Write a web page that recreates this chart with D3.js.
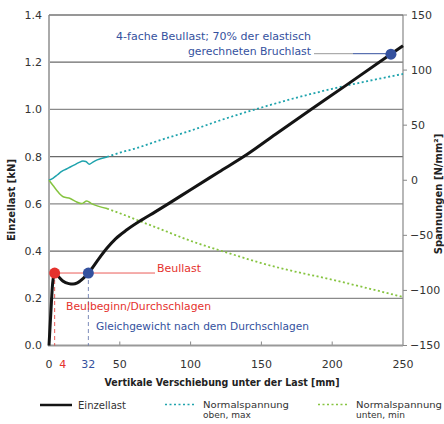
<!DOCTYPE html>
<html><head><meta charset="utf-8">
<script src="https://cdn.jsdelivr.net/npm/d3@7"></script>
<style>
html,body{margin:0;padding:0;background:#fff;}
svg{display:block;font-family:"DejaVu Sans",sans-serif;}
</style></head>
<body><svg id="c" width="444" height="424"></svg>
<script>
// ---- data ----
const lastX = [0, 1.4, 2.6, 4, 7, 10, 14, 17, 20, 24, 27.8, 31, 35, 41, 47, 55, 65, 75, 85, 100, 120, 140, 160, 185, 210, 240, 250];
const lastY = [0, 0.15, 0.265, 0.307, 0.29, 0.272, 0.262, 0.26, 0.265, 0.283, 0.307, 0.332, 0.366, 0.413, 0.452, 0.49, 0.53, 0.566, 0.603, 0.66, 0.735, 0.81, 0.895, 1.0, 1.103, 1.228, 1.27];
const obenX = [0, 3, 6, 9, 12, 15, 18, 21, 24, 26, 28.5, 31, 34, 41, 50, 60, 80, 100, 120, 150, 175, 200, 225, 250];
const obenY = [0, 2, 5, 8, 10, 12, 14, 16, 17.5, 17, 14.5, 16.5, 18.5, 21.2, 25, 28.5, 37, 45, 54, 66, 75, 83, 90, 96.5];
const untenX = [0, 3, 5.4, 8, 10, 15, 19.6, 23, 26.7, 30, 41, 57, 64, 80, 100, 128, 150, 170, 197, 225, 250];
const untenY = [0, -5, -9, -13, -15, -16.6, -19.7, -21.2, -18.8, -21.2, -25.7, -33.4, -37, -45, -55, -66.6, -75.2, -81.8, -89.4, -98, -106];
const leftTicks = [0, 0.2, 0.4, 0.6, 0.8, 1.0, 1.2, 1.4];
const rightTicks = [-150, -100, -50, 0, 50, 100, 150];
const xTicks = [0, 50, 100, 150, 200, 250];
const markX = [4, 27.8];          // Beulbeginn, Gleichgewicht
const markLabel = ["4", "32"];
const markY = 0.307;
const bruchX = 241.5, bruchY = 1.234;
const seriesNames = ["Einzellast", "Normalspannung|oben, max", "Normalspannung|unten, min"];

// ---- layout ----
const svg = d3.select("#c");
const L = 49, R = 403, T = 15, B = 345.5;
const x = d3.scaleLinear().domain([0, 250]).range([L, R]);
const y = d3.scaleLinear().domain([0, 1.4]).range([B, T]);
const y2 = d3.scaleLinear().domain([-150, 150]).range([B, T]);
const COL = {black:"#141414", teal:"#1fa3ad", green:"#86c440", red:"#e5322d", blue:"#34519e", txt:"#333"};

// grid
svg.append("g").selectAll("line").data(leftTicks.filter(d=>d>0)).join("line")
  .attr("x1", L).attr("x2", R).attr("y1", d=>y(d)).attr("y2", d=>y(d))
  .attr("stroke", (d,i)=> i%2===0 ? "#8a8a8a" : "#6a6a6a").attr("stroke-width", 1.2);

// left axis labels
svg.append("g").selectAll("text").data(leftTicks).join("text")
  .attr("x", 42).attr("y", d=>y(d)).attr("dy","0.36em").attr("text-anchor","end")
  .attr("font-size", 11).attr("fill", COL.txt).text(d=>d.toFixed(1));

// right axis ticks + labels
const ra = svg.append("g");
ra.selectAll("line").data(rightTicks).join("line")
  .attr("x1", R).attr("x2", R+4).attr("y1", d=>y2(d)).attr("y2", d=>y2(d))
  .attr("stroke","#888").attr("stroke-width",1);
ra.selectAll("text").data(rightTicks).join("text")
  .attr("x", d=> d<0 ? 410 : 411).attr("y", d=>y2(d)).attr("dy","0.36em")
  .attr("font-size", 11).attr("fill", COL.txt).text(d=> d<0 ? "\u2212"+Math.abs(d) : d);

// x ticks
svg.append("g").selectAll("line").data(xTicks.filter(d=>d>0 && d<250)).join("line")
  .attr("x1", d=>x(d)).attr("x2", d=>x(d)).attr("y1", B).attr("y2", B-4)
  .attr("stroke","#888").attr("stroke-width",1);
svg.append("g").selectAll("text").data(xTicks).join("text")
  .attr("x", d=>x(d)).attr("y", 364).attr("dy","0.36em").attr("text-anchor","middle")
  .attr("font-size", 11).attr("fill", COL.txt).text(d=>d);
svg.append("text").attr("x", x(markX[0])+8).attr("y",364).attr("dy","0.36em").attr("text-anchor","middle")
  .attr("font-size",11).attr("fill",COL.red).text(markLabel[0]);
svg.append("text").attr("x", x(markX[1])).attr("y",364).attr("dy","0.36em").attr("text-anchor","middle")
  .attr("font-size",11).attr("fill",COL.blue).text(markLabel[1]);

// axes lines
svg.append("line").attr("x1",L).attr("x2",L).attr("y1",T).attr("y2",B).attr("stroke","#aaa").attr("stroke-width",2);
svg.append("line").attr("x1",R).attr("x2",R).attr("y1",T).attr("y2",B).attr("stroke","#888").attr("stroke-width",1.2);
svg.append("line").attr("x1",L-1).attr("x2",R).attr("y1",B).attr("y2",B).attr("stroke","#999").attr("stroke-width",2);
svg.append("line").attr("x1",L).attr("x2",R).attr("y1",T).attr("y2",T).attr("stroke","#6a6a6a").attr("stroke-width",1.2);

// axis titles
svg.append("text").attr("transform","translate(15,200) rotate(-90)").attr("text-anchor","middle")
  .attr("font-size",10).attr("font-weight","bold").attr("fill","#222").text("Einzellast [kN]");
svg.append("text").attr("transform","translate(442,194) rotate(-90)").attr("text-anchor","middle")
  .attr("font-size",10).attr("font-weight","bold").attr("fill","#222").text("Spannungen [N/mm\u00B2]");
svg.append("text").attr("x",222).attr("y",382).attr("dy","0.36em").attr("text-anchor","middle")
  .attr("font-size",10).attr("font-weight","bold").attr("fill","#222")
  .attr("textLength",235).attr("lengthAdjust","spacingAndGlyphs")
  .text("Vertikale Verschiebung unter der Last [mm]");

// series
const zip = (a,b)=>a.map((v,i)=>[v,b[i]]);
const lastD = zip(lastX,lastY), obenD = zip(obenX,obenY), untenD = zip(untenX,untenY);
const line1 = d3.line().x(d=>x(d[0])).y(d=>y(d[1])).curve(d3.curveMonotoneX);
const line2 = d3.line().x(d=>x(d[0])).y(d=>y2(d[1])).curve(d3.curveMonotoneX);

svg.append("path").attr("d", line2(obenD.filter(d=>d[0]<=41))).attr("fill","none").attr("stroke",COL.teal).attr("stroke-width",1.5);
svg.append("path").attr("d", line2(obenD.filter(d=>d[0]>=41))).attr("fill","none").attr("stroke",COL.teal).attr("stroke-width",1.8).attr("stroke-dasharray","2,2.5");
svg.append("path").attr("d", line2(untenD.filter(d=>d[0]<=41))).attr("fill","none").attr("stroke",COL.green).attr("stroke-width",1.5);
svg.append("path").attr("d", line2(untenD.filter(d=>d[0]>=41))).attr("fill","none").attr("stroke",COL.green).attr("stroke-width",1.8).attr("stroke-dasharray","2,2.5");

// annotations: dashed verticals and red horizontal
svg.append("line").attr("x1",x(markX[0])).attr("x2",x(markX[0])).attr("y1",y(markY)).attr("y2",B)
  .attr("stroke",COL.red).attr("stroke-width",0.8).attr("stroke-dasharray","4,3");
svg.append("line").attr("x1",x(markX[1])).attr("x2",x(markX[1])).attr("y1",y(markY)).attr("y2",B)
  .attr("stroke","#5a6fa8").attr("stroke-width",0.8).attr("stroke-dasharray","4,3");
svg.append("line").attr("x1",x(markX[0])).attr("x2",155).attr("y1",y(markY)).attr("y2",y(markY))
  .attr("stroke",COL.red).attr("stroke-width",0.8);

// Einzellast
svg.append("path").attr("d", line1(lastD)).attr("fill","none").attr("stroke",COL.black).attr("stroke-width",3).attr("stroke-linejoin","round");

// leader for Bruchlast
svg.append("line").attr("x1",314).attr("x2",353).attr("y1",y(bruchY)-0.5).attr("y2",y(bruchY)-0.5).attr("stroke","#999").attr("stroke-width",1);
svg.append("line").attr("x1",353).attr("x2",x(bruchX)).attr("y1",y(bruchY)-0.5).attr("y2",y(bruchY)-0.5).attr("stroke",COL.blue).attr("stroke-width",1);

// dots
svg.append("circle").attr("cx",x(markX[0])).attr("cy",y(markY)).attr("r",5.5).attr("fill",COL.red);
svg.append("circle").attr("cx",x(markX[1])).attr("cy",y(markY)).attr("r",5.5).attr("fill",COL.blue);
svg.append("circle").attr("cx",x(bruchX)).attr("cy",y(bruchY)).attr("r",5.5).attr("fill",COL.blue);

// annotation texts
const ann = (t,xx,yy,col,len,anchor)=>svg.append("text").attr("x",xx).attr("y",yy).attr("dy","0.36em")
  .attr("text-anchor",anchor||"start").attr("font-size",10.5).attr("fill",col)
  .attr("textLength",len).attr("lengthAdjust","spacingAndGlyphs").text(t);
ann("4-fache Beullast; 70% der elastisch",311,36,COL.blue,195,"end");
ann("gerechneten Bruchlast",311,51,COL.blue,123,"end");
ann("Beullast",157,268,COL.red,44);
ann("Beulbeginn/Durchschlagen",66,306,COL.red,145);
ann("Gleichgewicht nach dem Durchschlagen",96,326,COL.blue,213);

// legend
const lg = svg.append("g");
lg.append("line").attr("x1",40).attr("x2",72).attr("y1",405).attr("y2",405).attr("stroke",COL.black).attr("stroke-width",2.5);
lg.append("text").attr("x",78).attr("y",405.5).attr("dy","0.36em").attr("font-size",10).attr("fill",COL.txt)
  .attr("textLength",48).attr("lengthAdjust","spacingAndGlyphs").text(seriesNames[0]);
lg.append("line").attr("x1",165).attr("x2",195).attr("y1",404.5).attr("y2",404.5).attr("stroke",COL.teal).attr("stroke-width",1.6).attr("stroke-dasharray","2,2.5");
lg.append("line").attr("x1",318).attr("x2",348).attr("y1",404.5).attr("y2",404.5).attr("stroke",COL.green).attr("stroke-width",1.6).attr("stroke-dasharray","2,2.5");
[[203,seriesNames[1]],[356,seriesNames[2]]].forEach(([xx,n])=>{
  const p = n.split("|");
  lg.append("text").attr("x",xx).attr("y",404.5).attr("dy","0.36em").attr("font-size",9).attr("fill",COL.txt)
    .attr("textLength",86).attr("lengthAdjust","spacingAndGlyphs").text(p[0]);
  lg.append("text").attr("x",xx).attr("y",414.5).attr("dy","0.36em").attr("font-size",9).attr("fill",COL.txt).text(p[1]);
});
</script></body></html>
